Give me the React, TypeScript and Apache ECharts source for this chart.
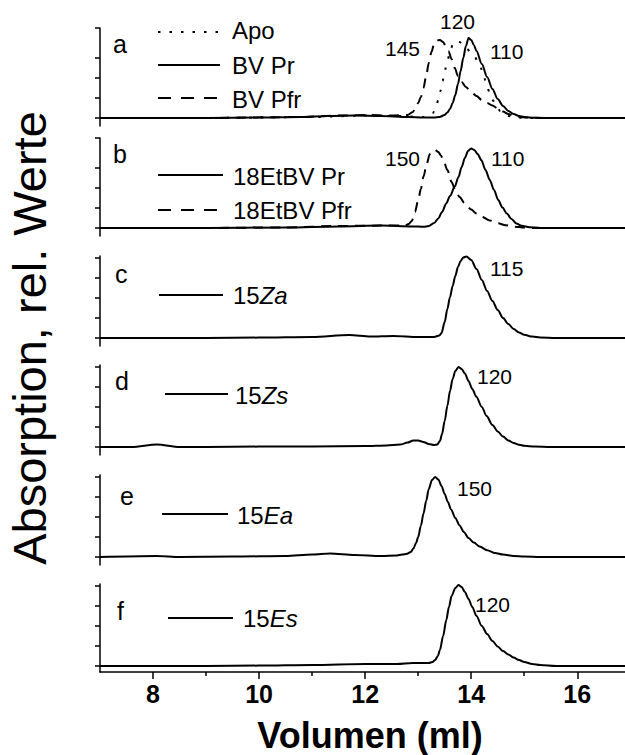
import React, { useEffect, useRef } from "react";
import * as echarts from "echarts";

const FONT = '"Liberation Sans", Arial, Helvetica, sans-serif';

// ---- data (x in ml, y in relative absorption units) ----
const aApoX = [7, 9, 11, 12, 12.6, 13.1, 13.2, 13.28, 13.33, 13.38, 13.42, 13.46, 13.5, 13.55, 13.6, 13.65, 13.71, 13.78, 13.85, 13.92, 14.0, 14.06, 14.12, 14.18, 14.24, 14.3, 14.36, 14.42, 14.48, 14.55, 14.62, 14.7, 14.8, 15.0, 16.9];
const aApoY = [0, 0, 0.05, 0.12, 0.1, 0.05, 0.1, 0.25, 0.5, 0.9, 1.35, 1.85, 2.35, 2.85, 3.3, 3.65, 3.85, 3.8, 3.65, 3.45, 3.25, 3.1, 2.85, 2.5, 2.05, 1.55, 1.15, 0.85, 0.57, 0.35, 0.2, 0.1, 0.05, 0, 0];

const aPrX = [7, 8, 9, 10, 10.8, 11.3, 11.8, 12.3, 12.8, 13.1, 13.3, 13.4, 13.5, 13.55, 13.6, 13.65, 13.7, 13.75, 13.8, 13.85, 13.9, 13.95, 14.0, 14.05, 14.1, 14.2, 14.3, 14.4, 14.5, 14.6, 14.7, 14.8, 14.9, 15.0, 15.2, 15.6, 16.9];
const aPrY = [0, 0, 0, 0.02, 0.05, 0.1, 0.12, 0.1, 0.05, 0.03, 0.03, 0.05, 0.15, 0.28, 0.45, 0.75, 1.15, 1.7, 2.35, 3.0, 3.6, 4.0, 3.9, 3.65, 3.35, 2.7, 2.05, 1.45, 0.95, 0.6, 0.35, 0.2, 0.1, 0.05, 0.01, 0, 0];

const aPfrX = [7, 9, 10.8, 11.5, 12.0, 12.5, 12.8, 12.9, 12.95, 13.0, 13.05, 13.1, 13.15, 13.2, 13.25, 13.3, 13.35, 13.41, 13.47, 13.52, 13.57, 13.63, 13.69, 13.75, 13.82, 13.9, 14.0, 14.1, 14.2, 14.3, 14.4, 14.5, 14.6, 14.7, 14.8, 14.9, 15.0, 15.3, 16.9];
const aPfrY = [0, 0, 0.05, 0.12, 0.15, 0.12, 0.15, 0.3, 0.5, 0.75, 1.05, 1.5, 2.1, 2.75, 3.3, 3.7, 3.88, 3.9, 3.8, 3.6, 3.35, 2.95, 2.5, 2.1, 1.8, 1.55, 1.3, 1.1, 0.9, 0.75, 0.62, 0.48, 0.32, 0.2, 0.12, 0.06, 0.03, 0, 0];

const bPrX = [7, 9, 10.5, 11.5, 12.3, 12.9, 13.1, 13.2, 13.3, 13.38, 13.45, 13.53, 13.6, 13.69, 13.76, 13.82, 13.88, 13.94, 14.0, 14.06, 14.12, 14.19, 14.27, 14.35, 14.43, 14.51, 14.59, 14.67, 14.76, 14.85, 14.95, 15.1, 15.3, 16.9];
const bPrY = [0, 0, 0.03, 0.08, 0.12, 0.08, 0.06, 0.1, 0.25, 0.48, 0.8, 1.23, 1.6, 2.07, 2.55, 3.05, 3.5, 3.85, 3.98, 3.9, 3.7, 3.4, 2.9, 2.4, 1.9, 1.4, 1.02, 0.73, 0.45, 0.23, 0.11, 0.04, 0, 0];

const bPfrX = [7, 9, 10.5, 11.5, 12.3, 12.75, 12.82, 12.88, 12.94, 13.0, 13.05, 13.1, 13.16, 13.22, 13.27, 13.32, 13.38, 13.43, 13.48, 13.55, 13.63, 13.7, 13.78, 13.88, 14.0, 14.1, 14.2, 14.35, 14.5, 14.65, 14.8, 15.0, 15.2, 16.9];
const bPfrY = [0, 0, 0.03, 0.1, 0.12, 0.12, 0.2, 0.35, 0.8, 1.4, 1.95, 2.57, 3.2, 3.7, 3.87, 3.9, 3.8, 3.62, 3.35, 2.9, 2.3, 1.9, 1.55, 1.23, 0.92, 0.72, 0.56, 0.38, 0.24, 0.14, 0.07, 0.02, 0, 0];

const cX = [7, 8, 9, 10, 11, 11.7, 12.1, 12.53, 13.0, 13.3, 13.4, 13.44, 13.5, 13.55, 13.6, 13.65, 13.7, 13.75, 13.8, 13.85, 13.91, 14.0, 14.1, 14.2, 14.3, 14.4, 14.5, 14.6, 14.7, 14.8, 14.9, 15.0, 15.15, 15.3, 15.6, 16.9];
const cY = [0, 0, 0, 0.02, 0.05, 0.15, 0.07, 0.1, 0.05, 0.05, 0.12, 0.25, 0.8, 1.45, 2.05, 2.6, 3.1, 3.55, 3.85, 4.02, 4.08, 3.9, 3.45, 2.9, 2.35, 1.85, 1.4, 1.0, 0.7, 0.45, 0.28, 0.16, 0.07, 0.03, 0, 0];

const dX = [7, 7.6, 8.07, 8.5, 9, 10, 11, 12, 12.4, 12.66, 12.8, 12.91, 13.0, 13.1, 13.2, 13.3, 13.36, 13.41, 13.45, 13.5, 13.55, 13.6, 13.65, 13.7, 13.76, 13.82, 13.88, 13.95, 14.02, 14.1, 14.2, 14.29, 14.4, 14.5, 14.6, 14.7, 14.8, 14.9, 15.0, 15.2, 15.5, 16.9];
const dY = [0, 0, 0.13, 0, 0, 0.02, 0.03, 0.05, 0.08, 0.12, 0.22, 0.33, 0.32, 0.25, 0.15, 0.1, 0.13, 0.3, 0.65, 1.3, 2.05, 2.8, 3.4, 3.8, 4.0, 3.9, 3.68, 3.3, 2.9, 2.5, 2.0, 1.55, 1.1, 0.78, 0.52, 0.33, 0.2, 0.11, 0.06, 0.02, 0, 0];

const eX = [7, 8.07, 8.5, 9.5, 10.5, 11.0, 11.34, 11.8, 12.3, 12.6, 12.7, 12.79, 12.86, 12.91, 12.96, 13.0, 13.05, 13.1, 13.15, 13.2, 13.26, 13.32, 13.38, 13.44, 13.5, 13.56, 13.62, 13.7, 13.78, 13.86, 13.95, 14.05, 14.16, 14.3, 14.45, 14.6, 14.8, 15.0, 15.3, 16.9];
const eY = [0, 0.05, 0, 0.02, 0.05, 0.12, 0.17, 0.1, 0.05, 0.08, 0.12, 0.16, 0.25, 0.42, 0.7, 1.0, 1.55, 2.17, 2.8, 3.4, 3.85, 4.0, 3.88, 3.55, 3.15, 2.75, 2.38, 1.95, 1.58, 1.25, 0.95, 0.72, 0.52, 0.34, 0.2, 0.12, 0.05, 0.02, 0, 0];

const fX = [7, 9, 10, 11, 12, 12.6, 12.9, 13.2, 13.27, 13.32, 13.37, 13.41, 13.47, 13.53, 13.58, 13.63, 13.7, 13.76, 13.82, 13.88, 13.95, 14.02, 14.1, 14.2, 14.3, 14.4, 14.5, 14.6, 14.7, 14.8, 14.9, 15.0, 15.15, 15.3, 15.6, 16.9];
const fY = [0, 0, 0.02, 0.05, 0.1, 0.1, 0.15, 0.15, 0.2, 0.3, 0.5, 0.8, 1.5, 2.3, 2.95, 3.5, 3.9, 4.05, 3.95, 3.7, 3.35, 2.95, 2.5, 2.0, 1.6, 1.25, 0.97, 0.75, 0.58, 0.42, 0.3, 0.2, 0.1, 0.05, 0, 0];

const xMajorTicks = [8, 10, 12, 14, 16];
const xMinorTicks = [9, 11, 13, 15];
const panelLetters = ["a", "b", "c", "d", "e", "f"];
const xTitle = "Volumen (ml)";
const yTitle = "Absorption, rel. Werte";

const pairs = (xs: number[], ys: number[]) => xs.map((x, i) => [x, ys[i]]);

export default function App() {
  const ref = useRef<HTMLDivElement>(null);
  useEffect(() => {
    if (!ref.current) return;
    const chart = echarts.init(ref.current, undefined, { renderer: "svg" });

    const baselines = [118, 228, 338, 447, 557, 666];
    const yMaxes = [4.5, 4.5, 4.1, 4.1, 4.1, 4.1];
    const yMins = [-0.4, -0.4, -0.4, -0.4, -0.4, -0.3];
    const scale = 20;
    const grids = baselines.map((b, i) => ({
      left: 100,
      width: 525,
      top: b - yMaxes[i] * scale,
      height: (yMaxes[i] - yMins[i]) * scale,
    }));

    const xAxes: any[] = grids.map((_, i) =>
      i < 5
        ? { type: "value", gridIndex: i, min: 7, max: 16.9, show: false }
        : {
            type: "value",
            gridIndex: i,
            min: 7,
            max: 16.9,
            interval: 1,
            axisLine: { show: true, onZero: false, lineStyle: { color: "#000", width: 1.5 } },
            axisTick: { show: true, customValues: xMajorTicks, length: 7, lineStyle: { color: "#000", width: 1.5 } },
            axisLabel: { show: false },
            splitLine: { show: false },
          }
    );
    xAxes.push({
      type: "value",
      gridIndex: 5,
      min: 7,
      max: 16.9,
      interval: 1,
      position: "bottom",
      axisLine: { show: false, onZero: false },
      axisTick: { show: true, customValues: xMinorTicks, length: 4, lineStyle: { color: "#000", width: 1.5 } },
      axisLabel: { show: false },
      splitLine: { show: false },
    });

    const yAxes = grids.map((_, i) => ({
      type: "value",
      gridIndex: i,
      min: yMins[i],
      max: yMaxes[i],
      axisLine: { show: true, onZero: false, lineStyle: { color: "#000", width: 1.5 } },
      axisTick: {
        show: true,
        inside: false,
        length: 5,
        customValues: i < 2 ? [0, 1, 2, 3, 4.5] : [0, 1, 2, 3, 4],
        lineStyle: { color: "#000", width: 1.5 },
      },
      axisLabel: { show: false },
      splitLine: { show: false },
    }));

    const mk = (idx: number, xs: number[], ys: number[], dash: any, z = 2) => ({
      type: "line",
      xAxisIndex: idx,
      yAxisIndex: idx,
      data: pairs(xs, ys),
      showSymbol: false,
      smooth: 0.3,
      smoothMonotone: "x",
      clip: false,
      z,
      lineStyle: { color: "#000", width: 2, type: dash },
    });

    const series = [
      mk(0, aApoX, aApoY, [2.5, 9]),
      mk(0, aPfrX, aPfrY, [10, 7]),
      mk(0, aPrX, aPrY, "solid", 3),
      mk(1, bPfrX, bPfrY, [10, 7]),
      mk(1, bPrX, bPrY, "solid", 3),
      mk(2, cX, cY, "solid"),
      mk(3, dX, dY, "solid"),
      mk(4, eX, eY, "solid"),
      mk(5, fX, fY, "solid"),
    ];

    chart.setOption({
      animation: false,
      backgroundColor: "#fff",
      grid: grids,
      xAxis: xAxes,
      yAxis: yAxes,
      series,
    });

    const txt = (x: number, y: number, text: string, size: number, extra: any = {}) => ({
      type: "text",
      x,
      y,
      z: 10,
      style: {
        text,
        fill: "#000",
        fontFamily: FONT,
        fontSize: size,
        align: "left",
        verticalAlign: "middle",
        textAlign: "left",
        textVerticalAlign: "middle",
        ...extra,
      },
    });
    const ln = (x1: number, x2: number, y: number, dash: any) => ({
      type: "line",
      z: 10,
      shape: { x1, y1: y, x2, y2: y },
      style: { stroke: "#000", lineWidth: 2, lineDash: dash },
    });
    const rich = { i: { fontStyle: "italic", fontFamily: FONT, fontSize: 24, fill: "#000" } };

    // x tick labels placed through the bottom axis' own scale
    const tickLabels = xMajorTicks.map((v) => {
      const p = chart.convertToPixel({ gridIndex: 5 }, [v, yMins[5]]) as number[];
      return txt(p[0], p[1] + 9, String(v), 25, {
        fontWeight: "bold",
        align: "center",
        textAlign: "center",
        verticalAlign: "top",
        textVerticalAlign: "top",
      });
    });

    const letterPos = [
      [113, 44], [113, 154], [115, 274], [115, 381], [120, 496], [117, 611],
    ];

    const graphic: any[] = [
      ...tickLabels,
      ...panelLetters.map((l, i) => txt(letterPos[i][0], letterPos[i][1], l, 25)),
      ln(158, 218, 32, [2.5, 9]), txt(232, 30, "Apo", 24),
      ln(158, 220, 65, null), txt(232, 65, "BV Pr", 24),
      ln(158, 218, 98, [13, 10]), txt(232, 99, "BV Pfr", 24),
      txt(440, 21, "120", 21), txt(385, 48, "145", 21), txt(490, 51, "110", 21),
      ln(158, 223, 175, null), txt(233, 176, "18EtBV Pr", 24),
      ln(158, 223, 210, [13, 10]), txt(233, 210, "18EtBV Pfr", 24),
      txt(385, 158, "150", 21), txt(491, 158, "110", 21),
      ln(159, 223, 295, null), txt(233, 295, "15{i|Za}", 24, { rich }),
      txt(490, 268, "115", 21),
      ln(165, 228, 394, null), txt(235, 395, "15{i|Zs}", 24, { rich }),
      txt(477, 376, "120", 21),
      ln(162, 228, 514, null), txt(237, 515, "15{i|Ea}", 24, { rich }),
      txt(457, 488, "150", 21),
      ln(168, 233, 618, null), txt(243, 618, "15{i|Es}", 24, { rich }),
      txt(475, 604, "120", 21),
      txt(370, 735, xTitle, 36, { fontWeight: "bold", align: "center", textAlign: "center" }),
      {
        type: "text",
        x: 29,
        y: 338,
        rotation: Math.PI / 2,
        z: 10,
        style: {
          text: yTitle,
          fill: "#000",
          fontFamily: FONT,
          fontSize: 47,
          align: "center",
          verticalAlign: "middle",
          textAlign: "center",
          textVerticalAlign: "middle",
        },
      },
    ];

    chart.setOption({ graphic });
    return () => chart.dispose();
  }, []);

  return (
    <div
      ref={ref}
      style={{ position: "fixed", left: 0, top: 0, width: 625, height: 755, background: "#fff" }}
    />
  );
}
